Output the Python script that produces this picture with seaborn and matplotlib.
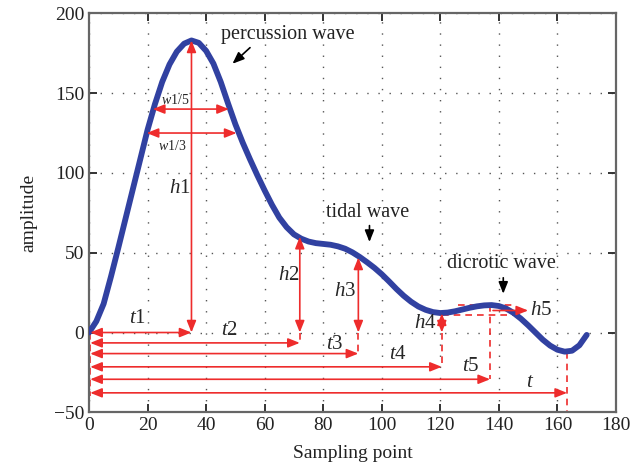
import numpy as np
import pandas as pd
import matplotlib
matplotlib.use("Agg")
import matplotlib.pyplot as plt
import seaborn as sns

# pulse wave
sample_point = [0, 2.5, 5, 7.5, 10, 12.5, 15, 17.5, 20, 22.5, 25, 27.5, 30,
                32.5, 35, 37.5, 40, 42.5, 45, 47.5, 50, 52.5, 55, 57.5, 60,
                62.5, 65, 67.5, 70, 72.5, 75, 77.5, 80, 82.5, 85, 87.5, 90,
                92.5, 95, 97.5, 100, 102.5, 105, 107.5, 110, 112.5, 115,
                117.5, 120, 122.5, 125, 127.5, 130, 132.5, 135, 137.5, 140,
                142.5, 145, 147.5, 150, 152.5, 155, 157.5, 160, 162.5, 165,
                167.5, 170]
amplitude = [0, 7, 18, 35, 53, 71.5, 90, 108.5, 127, 143, 157, 168, 176,
             181, 183, 181.5, 176.5, 168.5, 157, 143.5, 130.5, 119, 108.5,
             98.5, 89, 80, 72, 66, 61.5, 58.8, 57, 56, 55.5, 55, 54, 52.5,
             50.2, 47.3, 44, 40.5, 36.5, 32, 27.3, 23, 19.3, 16.3, 14.2,
             12.8, 12.2, 12.5, 13.3, 14.4, 15.5, 16.4, 17, 17.2, 16.6,
             15, 12.3, 8.7, 4.5, 0, -4.5, -8.2, -10.8, -12, -11.4,
             -8, -1.5]

# characteristic points: t1..t5, t and the heights h1..h4
t_names = ["t1", "t2", "t3", "t4", "t5", "t"]
t_values = [35, 72, 92, 120.5, 137, 163.3]
h_names = ["h1", "h2", "h3", "h4"]
h_values = [183, 60, 47, 12]
w_names = ["w1/5", "w1/3"]
w_level = [140, 125]
w_start = [21.8, 19.7]
w_end = [47.8, 50.4]
h5_low, h5_high = 11, 17.4

RED = "#ee2c2c"
BLUE = "#3141a1"


def darrow(ax, p0, p1, lw=1.2):
    ax.annotate("", xy=p1, xytext=p0,
                arrowprops=dict(arrowstyle="<|-|>,head_length=0.5,head_width=0.2",
                                color=RED, lw=lw, mutation_scale=14,
                                shrinkA=0, shrinkB=0))


def sarrow(ax, p0, p1, color=RED, lw=1.2):
    ax.annotate("", xy=p1, xytext=p0,
                arrowprops=dict(arrowstyle="-|>,head_length=0.5,head_width=0.2",
                                color=color, lw=lw, mutation_scale=14,
                                shrinkA=0, shrinkB=0))


def main():
    sns.set_style("ticks")
    plt.rcParams["font.family"] = ["Liberation Serif", "DejaVu Serif"]
    plt.rcParams["mathtext.fontset"] = "custom"
    plt.rcParams["mathtext.it"] = "Liberation Serif:italic"
    plt.rcParams["mathtext.rm"] = "Liberation Serif"

    df = pd.DataFrame({"Sampling point": sample_point, "amplitude": amplitude})

    fig = plt.figure(figsize=(6.44, 4.76), dpi=100)
    ax = fig.add_axes([0.1382, 0.1338, 0.8183, 0.8382])

    sns.lineplot(data=df, x="Sampling point", y="amplitude", ax=ax,
                 color=BLUE, lw=4.2, zorder=3)

    ax.set_xlim(0, 180)
    ax.set_ylim(-50, 200)
    ax.set_xticks(range(0, 181, 20))
    ax.set_yticks(range(-50, 201, 50))
    ax.grid(True, color="#555555", linestyle=(0, (1, 7)), lw=1.0)
    ax.tick_params(direction="in", length=6, width=1.4, top=True, right=True,
                   labelsize=14, colors="#222222", color="#333333")
    for s in ax.spines.values():
        s.set_color("#666666")
        s.set_linewidth(1.6)
    ax.set_xlabel("Sampling point", fontsize=14, color="#222222", labelpad=8)
    ax.set_ylabel("amplitude", fontsize=14, color="#222222", labelpad=12)

    # vertical heights h1..h4
    for name, xv, hv in zip(h_names, t_values[:4], h_values):
        darrow(ax, (xv, 0), (xv, hv))
    ax.text(31, 90, r"$h$1", fontsize=15, ha="center", va="center")
    ax.text(68.3, 36, r"$h$2", fontsize=15, ha="center", va="center")
    ax.text(87.3, 26, r"$h$3", fontsize=15, ha="center", va="center")
    ax.text(115, 5.5, r"$h$4", fontsize=15, ha="center", va="center")

    # widths
    for xs, xe, yv in zip(w_start, w_end, w_level):
        darrow(ax, (xs, yv), (xe, yv))
    ax.text(29.5, 146, r"$w$1/5", fontsize=10, ha="center", va="center")
    ax.text(28.5, 117, r"$w$1/3", fontsize=10, ha="center", va="center")

    # time spans
    t_rows = [0, -6.5, -13.2, -21.5, -29.3, -37.8]
    for xv, yv in zip(t_values, t_rows):
        darrow(ax, (0.4, yv), (xv, yv))
    dash = (0, (4, 3))
    ax.plot([0.5, 0.5], [0, -40], color=RED, lw=1.2, ls=dash)
    for xv, yv in zip(t_values[1:4], t_rows[1:4]):
        ax.plot([xv, xv], [0, yv], color=RED, lw=1.2, ls=dash)
    ax.plot([t_values[4]] * 2, [h5_high, t_rows[4]], color=RED, lw=1.2, ls=dash)
    ax.plot([t_values[5]] * 2, [-12, -50], color=RED, lw=1.2, ls=dash)
    t_text = [(16.4, 9), (48, 1), (84, -7.5), (105.5, -14), (130.5, -21.5),
              (150.5, -31.5)]
    for name, (tx, ty) in zip(t_names, t_text):
        if name == "t":
            lab = r"$t$"
        else:
            lab = r"$t$" + name[1:]
        ax.text(tx, ty, lab, fontsize=15, ha="center", va="center")

    # h5 box
    ax.plot([126, 144.5], [h5_high, h5_high], color=RED, lw=1.2, ls=dash)
    ax.plot([120.7, 145], [h5_low, h5_low], color=RED, lw=1.2, ls=dash)
    sarrow(ax, (138, 13.8), (150, 13.8))
    ax.text(154.5, 14, r"$h$5", fontsize=15, ha="center", va="center")

    # wave names
    ax.text(68, 187, "percussion wave", fontsize=14.5, ha="center",
            va="center", color="#222222")
    sarrow(ax, (55, 178.5), (49, 168.4), color="black", lw=1.2)
    ax.text(95, 75, "tidal wave", fontsize=14.5, ha="center", va="center",
            color="#222222")
    sarrow(ax, (95.8, 67), (95.8, 56.7), color="black", lw=1.2)
    ax.text(141, 43.5, "dicrotic wave", fontsize=14.5, ha="center",
            va="center", color="#222222")
    sarrow(ax, (141.5, 34.3), (141.5, 24.3), color="black", lw=1.2)

    plt.savefig("out.png", dpi=100)


if __name__ == "__main__":
    main()
